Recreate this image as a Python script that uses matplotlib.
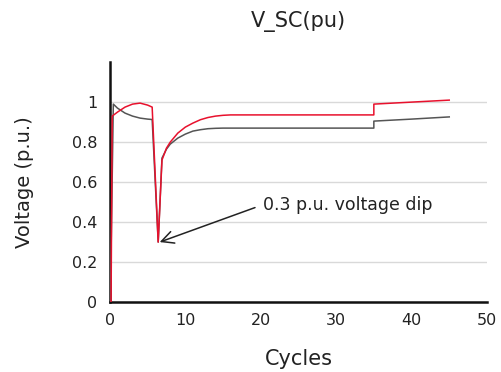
import matplotlib.pyplot as plt

# red trace
red_x = [0.15, 0.3, 1, 2, 3, 4, 5, 5.6, 6.4, 6.9, 7.5, 8, 9, 10, 11, 12, 13, 14, 15, 16, 20, 25, 30, 35, 35, 40, 45]
red_y = [0.0, 0.93, 0.95, 0.975, 0.99, 0.995, 0.985, 0.975, 0.30, 0.71, 0.77, 0.80, 0.845, 0.875, 0.895, 0.912, 0.923, 0.93, 0.934, 0.936, 0.936, 0.936, 0.936, 0.936, 0.99, 1.0, 1.01]

# gray trace
gray_x = [0.05, 0.45, 1, 2, 3, 4, 5, 5.6, 6.4, 6.9, 7.5, 8, 9, 10, 11, 12, 13, 14, 15, 16, 20, 25, 30, 35, 35, 40, 45]
gray_y = [0.0, 0.99, 0.97, 0.945, 0.93, 0.92, 0.915, 0.913, 0.30, 0.72, 0.765, 0.79, 0.82, 0.84, 0.855, 0.862, 0.867, 0.869, 0.87, 0.87, 0.87, 0.87, 0.87, 0.87, 0.905, 0.915, 0.926]

x_ticks = [0, 10, 20, 30, 40, 50]
y_ticks = [0, 0.2, 0.4, 0.6, 0.8, 1]
y_labels = ['0', '0.2', '0.4', '0.6', '0.8', '1']

fig = plt.figure(figsize=(5.02, 3.72), dpi=100)
ax = fig.add_axes([0.219, 0.188, 0.751, 0.645])

ax.plot(gray_x, gray_y, color='#555555', lw=1.1, zorder=3)
ax.plot(red_x, red_y, color='#e8112d', lw=1.1, zorder=4)

ax.set_xlim(0, 50)
ax.set_ylim(0, 1.2)
ax.set_xticks(x_ticks)
ax.set_yticks(y_ticks)
ax.set_yticklabels(y_labels)
ax.tick_params(length=0, labelsize=11.5, colors='#222222')
ax.tick_params(axis='y', pad=9)
ax.tick_params(axis='x', pad=8)

ax.grid(axis='y', color='#d9d9d9', lw=1)
ax.set_axisbelow(True)
for s in ['top', 'right']:
    ax.spines[s].set_visible(False)
for s in ['left', 'bottom']:
    ax.spines[s].set_linewidth(1.8)
    ax.spines[s].set_color('#111111')

ax.set_title('V_SC(pu)', fontsize=15, color='#222222', pad=25)
ax.set_xlabel('Cycles', fontsize=15, color='#222222', labelpad=15)
ax.set_ylabel('Voltage (p.u.)', fontsize=14, color='#222222', labelpad=27)

ax.annotate('0.3 p.u. voltage dip', xy=(6.6, 0.3), xytext=(20.3, 0.487),
            fontsize=12.5, color='#222222', ha='left', va='center',
            arrowprops=dict(arrowstyle='->, head_length=0.7, head_width=0.35',
                            color='#222222', lw=1.1, shrinkA=4, shrinkB=0,
                            relpos=(0, 0.5)))

fig.savefig('out.png', dpi=100)
